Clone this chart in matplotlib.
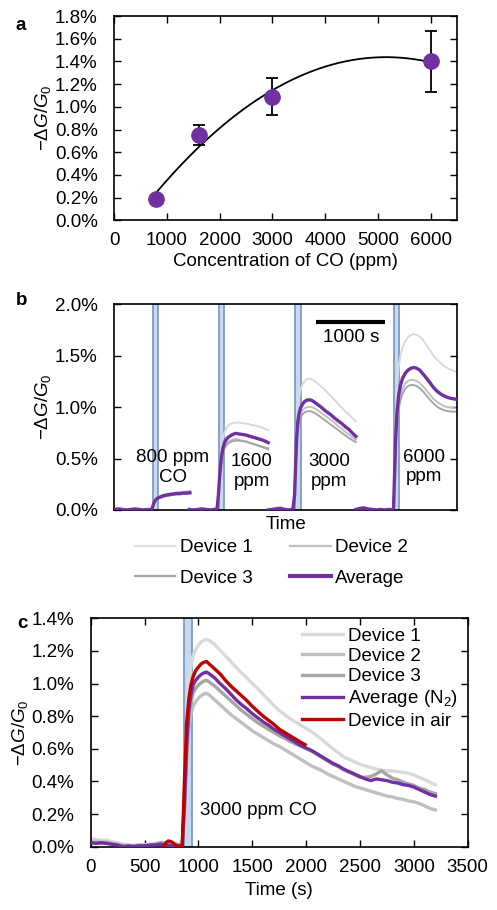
import numpy as np
import matplotlib
matplotlib.use("Agg")
import matplotlib.pyplot as plt
from matplotlib.ticker import FuncFormatter

plt.rcParams['font.family'] = ['Liberation Sans', 'DejaVu Sans']
plt.rcParams['font.size'] = 13.5
plt.rcParams['mathtext.fontset'] = 'custom'
plt.rcParams['mathtext.rm'] = 'Liberation Sans'
plt.rcParams['mathtext.it'] = 'Liberation Sans:italic'
plt.rcParams['mathtext.bf'] = 'Liberation Sans:bold'
FS = 13.5

# colours
col_d1, col_d2, col_d3 = '#d9d9d9', '#bfbfbf', '#a5a5a5'
col_avg, col_air = '#7030a0', '#c00000'
bar_face, bar_edge = '#c6d9f1', '#7f9cc3'

# ---- panel a: response vs concentration
conc = [800, 1600, 3000, 6000]
resp = [0.19, 0.75, 1.09, 1.40]
resp_err = [0.02, 0.09, 0.165, 0.27]

# ---- panel b: four exposures (time in s, response in %)
b_time = [
    [0, 60, 120, 180, 240, 300, 360, 420, 480, 530, 550, 570, 590, 610, 640, 680, 720, 760, 800, 850, 900, 950, 1000, 1050, 1097],
    [1087, 1150, 1210, 1270, 1330, 1390, 1450, 1490, 1510, 1530, 1550, 1575, 1600, 1640, 1680, 1720, 1760, 1800, 1850, 1900, 1950, 2000, 2050, 2100, 2150, 2200, 2232],
    [2232, 2290, 2350, 2410, 2470, 2530, 2590, 2615, 2630, 2645, 2660, 2680, 2700, 2730, 2760, 2800, 2850, 2900, 2950, 3000, 3050, 3100, 3150, 3200, 3250, 3300, 3350, 3400, 3450, 3503],
    [3503, 3560, 3620, 3680, 3740, 3800, 3860, 3920, 3980, 4030, 4050, 4065, 4080, 4100, 4125, 4150, 4180, 4220, 4260, 4300, 4340, 4380, 4430, 4480, 4530, 4580, 4630, 4680, 4730, 4780, 4830, 4880, 4930, 4970],
]
b_dev1 = [
    [0.01, 0.015, 0.01, 0.005, 0.01, 0.015, 0.01, 0.005, 0.01, 0.005, 0.025, 0.07, 0.1, 0.115, 0.13, 0.14, 0.15, 0.155, 0.16, 0.165, 0.17, 0.17, 0.175, 0.175, 0.178],
    [0.01, 0.005, 0.01, 0.015, 0.01, 0.005, 0.01, 0.015, 0.17, 0.4, 0.58, 0.69, 0.76, 0.81, 0.835, 0.845, 0.85, 0.85, 0.845, 0.84, 0.835, 0.825, 0.82, 0.81, 0.8, 0.785, 0.775],
    [0.005, 0.01, 0.025, 0.03, 0.01, 0.005, 0.01, 0.17, 0.52, 0.82, 0.99, 1.1, 1.17, 1.22, 1.255, 1.275, 1.275, 1.255, 1.23, 1.2, 1.17, 1.135, 1.1, 1.065, 1.03, 0.995, 0.96, 0.93, 0.895, 0.86],
    [0.01, 0.02, 0.025, 0.015, 0.01, 0.005, 0.01, 0.005, 0.01, 0.005, 0.025, 0.45, 0.9, 1.2, 1.4, 1.5, 1.58, 1.64, 1.68, 1.7, 1.71, 1.705, 1.685, 1.65, 1.6, 1.55, 1.5, 1.46, 1.43, 1.4, 1.38, 1.365, 1.35, 1.34],
]
b_dev2 = [
    [0.0, 0.005, 0.0, 0.0, 0.0, 0.005, 0.0, 0.0, 0.0, 0.0, 0.015, 0.055, 0.085, 0.1, 0.115, 0.125, 0.135, 0.145, 0.15, 0.16, 0.165, 0.17, 0.175, 0.18, 0.185],
    [0.0, 0.0, 0.0, 0.005, 0.0, 0.0, 0.0, 0.005, 0.14, 0.32, 0.47, 0.56, 0.62, 0.655, 0.675, 0.685, 0.69, 0.685, 0.675, 0.67, 0.66, 0.645, 0.635, 0.62, 0.61, 0.595, 0.585],
    [0.0, 0.0, 0.005, 0.01, 0.0, 0.0, 0.0, 0.14, 0.43, 0.66, 0.8, 0.89, 0.94, 0.97, 0.99, 1.0, 1.005, 0.99, 0.97, 0.945, 0.92, 0.895, 0.87, 0.845, 0.815, 0.79, 0.76, 0.735, 0.71, 0.685],
    [0.0, 0.01, 0.015, 0.005, 0.0, 0.0, 0.0, 0.0, 0.0, 0.0, 0.015, 0.32, 0.64, 0.88, 1.03, 1.12, 1.18, 1.23, 1.255, 1.265, 1.265, 1.255, 1.235, 1.2, 1.16, 1.12, 1.08, 1.05, 1.03, 1.01, 1.0, 0.995, 0.99, 0.988],
]
b_dev3 = [
    [0.005, 0.005, 0.005, 0.0, 0.005, 0.005, 0.005, 0.0, 0.005, 0.0, 0.02, 0.05, 0.08, 0.095, 0.11, 0.12, 0.13, 0.135, 0.14, 0.145, 0.15, 0.15, 0.155, 0.155, 0.158],
    [0.005, 0.0, 0.005, 0.005, 0.005, 0.0, 0.005, 0.005, 0.13, 0.3, 0.45, 0.55, 0.6, 0.64, 0.66, 0.67, 0.675, 0.675, 0.67, 0.665, 0.655, 0.645, 0.635, 0.625, 0.615, 0.605, 0.6],
    [0.005, 0.005, 0.01, 0.01, 0.005, 0.0, 0.005, 0.13, 0.4, 0.63, 0.76, 0.85, 0.9, 0.93, 0.95, 0.96, 0.96, 0.945, 0.925, 0.9, 0.875, 0.85, 0.825, 0.8, 0.775, 0.75, 0.725, 0.7, 0.68, 0.66],
    [0.005, 0.01, 0.015, 0.01, 0.005, 0.0, 0.005, 0.0, 0.005, 0.0, 0.015, 0.3, 0.6, 0.83, 0.98, 1.07, 1.13, 1.18, 1.205, 1.215, 1.215, 1.205, 1.185, 1.15, 1.11, 1.07, 1.035, 1.005, 0.985, 0.97, 0.962, 0.958, 0.956, 0.955],
]
b_avg = [
    [0.005, 0.01, 0.005, 0.0, 0.005, 0.01, 0.005, 0.0, 0.005, 0.0, 0.02, 0.06, 0.09, 0.105, 0.12, 0.13, 0.14, 0.145, 0.15, 0.155, 0.16, 0.16, 0.165, 0.165, 0.168],
    [0.005, 0.0, 0.005, 0.01, 0.005, 0.0, 0.005, 0.01, 0.15, 0.35, 0.5, 0.6, 0.66, 0.7, 0.72, 0.735, 0.745, 0.74, 0.735, 0.73, 0.72, 0.71, 0.7, 0.69, 0.68, 0.665, 0.655],
    [0.0, 0.005, 0.01, 0.015, 0.005, 0.0, 0.005, 0.15, 0.45, 0.7, 0.85, 0.94, 0.99, 1.03, 1.055, 1.07, 1.07, 1.05, 1.025, 1.0, 0.97, 0.945, 0.92, 0.89, 0.865, 0.84, 0.81, 0.785, 0.75, 0.715],
    [0.005, 0.015, 0.02, 0.01, 0.005, 0.0, 0.005, 0.0, 0.005, 0.0, 0.02, 0.35, 0.7, 0.95, 1.12, 1.21, 1.28, 1.33, 1.36, 1.378, 1.385, 1.38, 1.36, 1.32, 1.28, 1.235, 1.19, 1.155, 1.13, 1.11, 1.095, 1.085, 1.08, 1.075],
]
b_co_start = [565, 1522, 2623, 4054]
b_co_end = [633, 1590, 2701, 4122]
b_labels = ['800 ppm\nCO', '1600\nppm', '3000\nppm', '6000\nppm']
b_label_t = [846, 1991, 3111, 4488]
b_label_y = [0.413, 0.376, 0.376, 0.418]

# ---- panel c: 3000 ppm exposure
tc = [0, 50, 100, 150, 200, 250, 300, 350, 400, 450, 500, 550, 600, 650, 700, 750, 800, 850,
      870, 890, 910, 930, 950, 975, 1000, 1025, 1050, 1075, 1100,
      1150, 1200, 1250, 1300, 1350, 1400, 1450, 1500, 1550, 1600, 1650, 1700, 1750, 1800, 1850,
      1900, 1950, 2000, 2050, 2100, 2150, 2200, 2250, 2300, 2350, 2400, 2450, 2500, 2550, 2600,
      2650, 2700, 2750, 2800, 2850, 2900, 2950, 3000, 3050, 3100, 3150, 3200]
c_dev1 = [0.05, 0.045, 0.04, 0.04, 0.03, 0.025, 0.015, 0.012, 0.01, 0.008, 0.012, 0.015, 0.02, 0.025, 0.02, 0.025, 0.02, 0.02,
          0.3, 0.7, 0.98, 1.1, 1.17, 1.21, 1.235, 1.255, 1.265, 1.27, 1.265,
          1.24, 1.205, 1.17, 1.135, 1.1, 1.065, 1.035, 1.0, 0.97, 0.935, 0.9, 0.865, 0.835, 0.81, 0.785,
          0.765, 0.745, 0.725, 0.705, 0.68, 0.655, 0.625, 0.6, 0.575, 0.55, 0.535, 0.52, 0.505, 0.495, 0.485,
          0.475, 0.47, 0.465, 0.465, 0.46, 0.455, 0.45, 0.44, 0.425, 0.41, 0.395, 0.38]
c_dev2 = [0.03, 0.035, 0.025, 0.03, 0.02, 0.015, 0.01, 0.005, 0.0, 0.005, 0.01, 0.005, 0.01, 0.02, 0.015, 0.01, 0.01, 0.01,
          0.22, 0.52, 0.72, 0.81, 0.86, 0.89, 0.91, 0.925, 0.935, 0.94, 0.93,
          0.9, 0.87, 0.84, 0.81, 0.785, 0.76, 0.735, 0.71, 0.69, 0.67, 0.65, 0.63, 0.615, 0.595, 0.575,
          0.555, 0.535, 0.515, 0.495, 0.48, 0.465, 0.445, 0.43, 0.415, 0.4, 0.385, 0.37, 0.36, 0.35, 0.34,
          0.33, 0.32, 0.31, 0.305, 0.295, 0.29, 0.28, 0.275, 0.265, 0.25, 0.235, 0.225]
c_dev3 = [0.02, 0.025, 0.02, 0.02, 0.015, 0.01, 0.005, 0.0, 0.005, 0.01, 0.005, 0.01, 0.015, 0.025, 0.02, 0.015, 0.01, 0.01,
          0.24, 0.57, 0.79, 0.88, 0.94, 0.97, 0.99, 1.005, 1.015, 1.02, 1.01,
          0.985, 0.955, 0.925, 0.895, 0.865, 0.835, 0.81, 0.785, 0.76, 0.74, 0.72, 0.7, 0.68, 0.665, 0.645,
          0.63, 0.615, 0.6, 0.585, 0.565, 0.545, 0.525, 0.505, 0.49, 0.47, 0.455, 0.44, 0.425, 0.425, 0.43,
          0.445, 0.465, 0.44, 0.42, 0.41, 0.395, 0.385, 0.375, 0.36, 0.35, 0.335, 0.325]
c_avg = [0.025, 0.02, 0.025, 0.02, 0.015, 0.01, 0.0, 0.005, 0.0, 0.005, 0.005, 0.01, 0.01, 0.015, 0.01, 0.005, 0.005, 0.005,
         0.25, 0.6, 0.83, 0.93, 0.99, 1.02, 1.04, 1.055, 1.065, 1.07, 1.06,
         1.035, 1.0, 0.97, 0.935, 0.9, 0.87, 0.845, 0.815, 0.79, 0.765, 0.745, 0.72, 0.7, 0.68, 0.66,
         0.64, 0.62, 0.605, 0.59, 0.57, 0.55, 0.53, 0.51, 0.495, 0.475, 0.46, 0.445, 0.43, 0.415, 0.405,
         0.415, 0.41, 0.405, 0.395, 0.39, 0.38, 0.375, 0.365, 0.35, 0.335, 0.32, 0.31]
t_air = [680, 700, 720, 750, 780, 800, 830, 850, 870, 890, 910, 930, 950, 975, 1000, 1025, 1050, 1075, 1100,
         1150, 1200, 1250, 1300, 1350, 1400, 1450, 1500, 1550, 1600, 1650, 1700, 1750, 1800, 1850, 1900, 1950, 1990]
c_air = [0.005, 0.025, 0.035, 0.03, 0.015, 0.005, 0.0, 0.01, 0.4, 0.75, 0.9, 0.99, 1.04, 1.08, 1.1, 1.12, 1.13, 1.135, 1.12,
         1.09, 1.06, 1.02, 0.985, 0.955, 0.925, 0.895, 0.86, 0.83, 0.8, 0.775, 0.75, 0.72, 0.7, 0.68, 0.66, 0.64, 0.625]
c_co_start, c_co_end = 870, 945

pct = FuncFormatter(lambda v, p: f'{v:.1f}%')
ylab = r'$-\Delta G/G_0$'


def style(ax, xpad=8.5):
    ax.tick_params(direction='in', top=True, right=True, length=5, width=1, labelsize=FS)
    ax.tick_params(axis='y', pad=12)
    ax.tick_params(axis='x', pad=xpad)
    for s in ax.spines.values():
        s.set_linewidth(1.2)
    ax.yaxis.set_major_formatter(pct)


fig = plt.figure(figsize=(4.97, 9.10), dpi=100)

# ---------------- a
ax1 = fig.add_axes([0.230, 0.7579, 0.6895, 0.2245])
coef = np.polyfit(conc, resp, 2)
xf = np.linspace(min(conc), max(conc), 200)
ax1.plot(xf, np.polyval(coef, xf), color='black', lw=1.3, zorder=2)
ax1.errorbar(conc, resp, yerr=resp_err, fmt='none', ecolor='black', elinewidth=1.3,
             capsize=4, capthick=1.3, zorder=3)
ax1.plot(conc, resp, 'o', color=col_avg, ms=11, mec=col_avg, zorder=4)
ax1.set_xlim(0, 6500)
ax1.set_ylim(0, 1.8)
ax1.set_xticks(range(0, 7000, 1000))
ax1.set_yticks(np.arange(0, 1.81, 0.2))
style(ax1)
ax1.set_xlabel('Concentration of CO (ppm)', va='center')
ax1.xaxis.set_label_coords(0.5, -0.2026)
ax1.set_ylabel(ylab, va='center')
ax1.yaxis.set_label_coords(-0.208, 0.5)
fig.text(21 / 497, 1 - 26 / 910, 'a', fontweight='bold', fontsize=FS, ha='center', va='center')

# ---------------- b
ax2 = fig.add_axes([0.230, 0.4396, 0.6895, 0.2260])
for s0, s1 in zip(b_co_start, b_co_end):
    ax2.axvspan(s0, s1, facecolor=bar_face, edgecolor=bar_edge, lw=1.3, zorder=1)
for i in range(len(b_time)):
    ax2.plot(b_time[i], b_dev1[i], color=col_d1, lw=1.4, zorder=2)
    ax2.plot(b_time[i], b_dev2[i], color=col_d2, lw=1.4, zorder=2)
    ax2.plot(b_time[i], b_dev3[i], color=col_d3, lw=1.4, zorder=2)
    ax2.plot(b_time[i], b_avg[i], color=col_avg, lw=2.4, zorder=3)
for lab, tx, ty in zip(b_labels, b_label_t, b_label_y):
    ax2.text(tx, ty, lab, ha='center', va='center', fontsize=FS, zorder=4)
ax2.plot([2932, 3932], [1.825, 1.825], color='black', lw=3, solid_capstyle='butt')
ax2.text(3432, 1.68, '1000 s', ha='center', va='center', fontsize=FS)
ax2.set_xlim(0, 4970)
ax2.set_ylim(0, 2.0)
ax2.set_yticks(np.arange(0, 2.01, 0.5))
style(ax2)
ax2.set_xticks([])
ax2.set_xlabel('Time', va='center')
ax2.xaxis.set_label_coords(0.5, -0.073)
ax2.set_ylabel(ylab, va='center')
ax2.yaxis.set_label_coords(-0.208, 0.5)
fig.text(22 / 497, 1 - 301 / 910, 'b', fontweight='bold', fontsize=FS, ha='center', va='center')

hb = [plt.Line2D([], [], color='#e0e0e0', lw=1.6), plt.Line2D([], [], color=col_d3, lw=1.6),
      plt.Line2D([], [], color=col_d2, lw=1.6), plt.Line2D([], [], color=col_avg, lw=3)]
fig.legend(hb, ['Device 1', 'Device 3', 'Device 2', 'Average'], ncol=2, frameon=False,
           loc='upper left', bbox_to_anchor=(135 / 497, 1 - 539 / 910), borderpad=0, borderaxespad=0,
           handlelength=2.15, handletextpad=0.25, columnspacing=2.0, labelspacing=0.72, fontsize=FS)

# ---------------- c
ax3 = fig.add_axes([0.1825, 0.0696, 0.7586, 0.2510])
ax3.axvspan(c_co_start, c_co_end, facecolor=bar_face, edgecolor=bar_edge, lw=1.3, zorder=1)
ax3.plot(tc, c_dev1, color=col_d1, lw=2.4, label='Device 1', zorder=2)
ax3.plot(tc, c_dev2, color=col_d2, lw=2.4, label='Device 2', zorder=2)
ax3.plot(tc, c_dev3, color=col_d3, lw=2.4, label='Device 3', zorder=2)
ax3.plot(tc, c_avg, color=col_avg, lw=2.4, label='Average (N$_2$)', zorder=3)
ax3.plot(t_air, c_air, color=col_air, lw=2.4, label='Device in air', zorder=4)
ax3.text(1015, 0.22, '3000 ppm CO', ha='left', va='center', fontsize=FS)
ax3.set_xlim(0, 3500)
ax3.set_ylim(0, 1.4)
ax3.set_xticks(range(0, 3501, 500))
ax3.set_yticks(np.arange(0, 1.41, 0.2))
style(ax3, xpad=9)
ax3.set_xlabel('Time (s)', va='center')
ax3.xaxis.set_label_coords(0.4995, -0.19)
ax3.set_ylabel(ylab, va='center')
ax3.yaxis.set_label_coords(-0.1875, 0.5)
fig.text(22 / 497, 1 - 624 / 910, 'c', fontweight='bold', fontsize=FS, ha='center', va='center')
ax3.legend(frameon=False, loc='upper left', bbox_to_anchor=(301.7 / 497, 1 - 627.5 / 910),
           bbox_transform=fig.transFigure, borderpad=0, borderaxespad=0,
           handlelength=2.2, handletextpad=0.25, labelspacing=0.17, fontsize=FS)

fig.savefig('out.png', dpi=100)
